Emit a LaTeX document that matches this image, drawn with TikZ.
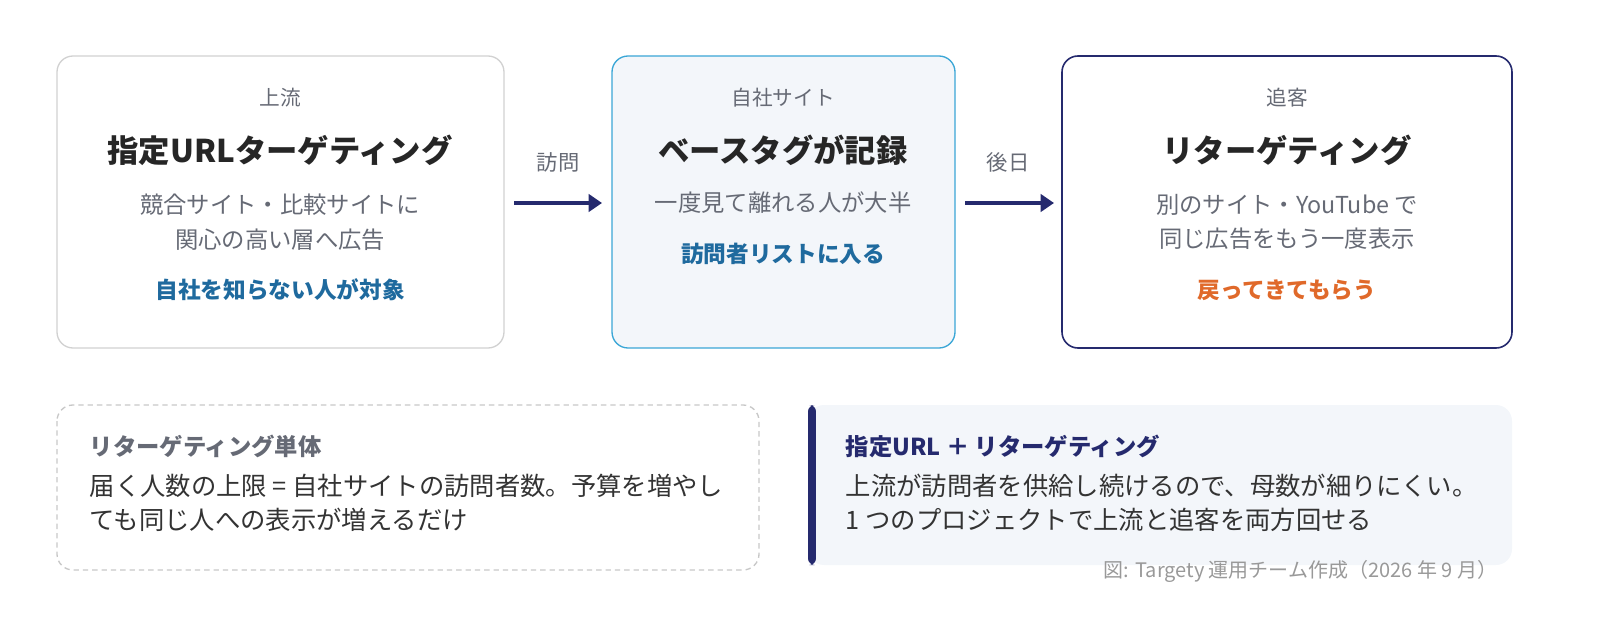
\documentclass[tikz,border=0pt]{standalone}
\usepackage{fontspec}
\setmainfont{Noto Sans CJK JP}
\usetikzlibrary{arrows.meta}
\definecolor{navy}{HTML}{252A6E}
\definecolor{txt}{HTML}{666A75}
\definecolor{blu}{HTML}{1F6A9E}
\definecolor{org}{HTML}{E0692A}
\definecolor{lbg}{HTML}{F3F6FA}
\definecolor{cyb}{HTML}{3AA6D6}
\begin{document}
\begin{tikzpicture}[x=0.75pt,y=-0.75pt,
 lab/.style={font=\fontsize{15.5}{18}\selectfont,text=txt},
 ttl/.style={font=\fontsize{23.5}{28}\selectfont\bfseries,text=black!85},
 dsc/.style={font=\fontsize{17.5}{26}\selectfont,text=txt,align=center},
 acc/.style={font=\fontsize{17}{20}\selectfont\bfseries},
 box/.style={rounded corners=12pt,line width=1pt},
 arr/.style={navy,line width=2.4pt,-{Triangle[length=10pt,width=13pt]}},
 body/.style={font=\fontsize{19}{25.5}\selectfont,text=black!80,anchor=north west,align=left}]
\useasboundingbox (0,0) rectangle (1600,620);
\draw[box,draw=black!18] (57,56) rectangle (504,348);
\draw[box,draw=cyb,fill=lbg] (612,56) rectangle (955,348);
\draw[box,draw=navy,line width=1.2pt] (1062,56) rectangle (1512,348);
\node[lab] (l1) at (280,98) {上流};
\node[ttl] (t1) at (280,150) {指定URLターゲティング};
\node[dsc] (d1) at (280,222) {競合サイト・比較サイトに\\関心の高い層へ広告};
\node[acc,text=blu] (a1) at (280,290) {自社を知らない人が対象};
\node[lab] (l2) at (783,98) {自社サイト};
\node[ttl] (t2) at (783,150) {ベースタグが記録};
\node[dsc] (d2) at (783,203) {一度見て離れる人が大半};
\node[acc,text=blu] (a2) at (783,254) {訪問者リストに入る};
\node[lab] (l3) at (1287,98) {追客};
\node[ttl] (t3) at (1287,150) {リターゲティング};
\node[dsc] (d3) at (1287,222) {別のサイト・YouTube で\\同じ広告をもう一度表示};
\node[acc,text=org] (a3) at (1287,290) {戻ってきてもらう};
\coordinate (s1) at (514,203); \coordinate (e1) at (602,203);
\coordinate (s2) at (965,203); \coordinate (e2) at (1054,203);
\draw[arr] (s1) -- (e1);
\draw[arr] (s2) -- (e2);
\node[lab,font=\fontsize{16}{18}\selectfont] (v1) at (558,162) {訪問};
\node[lab,font=\fontsize{16}{18}\selectfont] (v2) at (1008,162) {後日};
\draw[rounded corners=12pt,draw=black!22,line width=1pt,dash pattern=on 4pt off 3pt] (57,405) rectangle (759,570);
\node[body,font=\fontsize{17.5}{20}\selectfont\bfseries,text=txt] (bt1) at (85,430) {リターゲティング単体};
\node[body] (bb1) at (85,469) {届く人数の上限 = 自社サイトの訪問者数。予算を増やし\\ても同じ人への表示が増えるだけ};
\fill[lbg,rounded corners=12pt] (808,405) rectangle (1512,565);
\fill[navy,rounded corners=5pt] (808,405) rectangle (816,565);
\fill[lbg] (816,410) rectangle (826,560);
\node[body,font=\fontsize{17.5}{20}\selectfont\bfseries,text=navy] (bt2) at (841,430) {指定URL ＋ リターゲティング};
\node[body] (bb2) at (841,469) {上流が訪問者を供給し続けるので、母数が細りにくい。\\1 つのプロジェクトで上流と追客を両方回せる};
\node[font=\fontsize{15}{18}\selectfont,text=black!40,anchor=east] (cap) at (1502,571) {図: Targety 運用チーム作成（2026 年 9 月）};
\end{tikzpicture}
\end{document}
